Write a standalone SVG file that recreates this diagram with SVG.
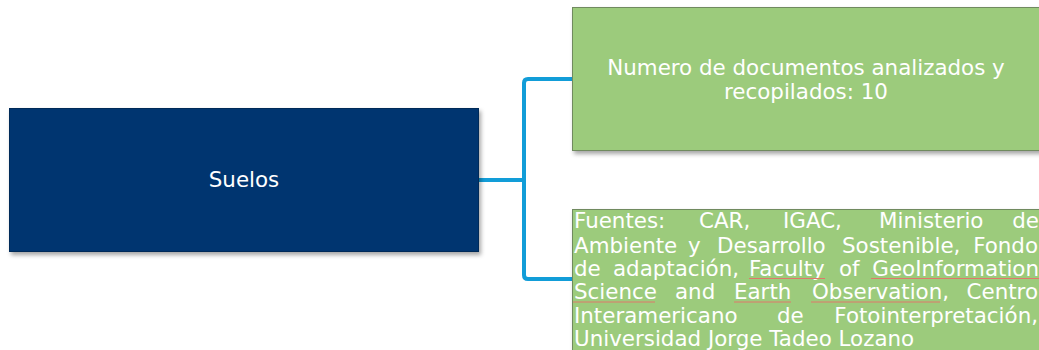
<svg xmlns="http://www.w3.org/2000/svg" width="1039" height="350" viewBox="0 0 1039 350">
<defs>
<filter id="sh" x="-5%" y="-10%" width="115%" height="130%">
<feDropShadow dx="2" dy="3" stdDeviation="2" flood-color="#000" flood-opacity="0.35"/>
</filter>
</defs>
<style>
.t{font-family:"DejaVu Sans","Verdana",sans-serif;font-size:21.4px;fill:#ffffff}
.g{fill:#9ccb7b;stroke:#6f8a5e;stroke-width:1}
.b{fill:#04356f;stroke:#022a58;stroke-width:1}
.c{fill:none;stroke:#129dd8;stroke-width:4;stroke-linejoin:round}
.u{stroke:#e0786a;stroke-width:1;fill:none}
.e{text-anchor:end}
</style>
<rect width="1039" height="350" fill="#ffffff"/>
<g id="connectors">
<path class="c" d="M479,180 H524"/>
<path class="c" d="M572,79 H528 Q524,79 524,83 V275 Q524,279 528,279 H572"/>
</g>
<g id="node-suelos">
<rect class="b" x="9.5" y="108.5" width="469" height="143" filter="url(#sh)"/>
<text class="t" x="244" y="187" text-anchor="middle">Suelos</text>
</g>
<g id="node-numero">
<rect class="g" x="572.5" y="7.5" width="470" height="143" filter="url(#sh)"/>
<text class="t" x="806" y="75" text-anchor="middle">Numero de documentos analizados y</text>
<text class="t" x="806" y="99" text-anchor="middle">recopilados: 10</text>
</g>
<g id="node-fuentes">
<rect class="g" x="572.5" y="209.5" width="470" height="150" filter="url(#sh)"/>
<text class="t" y="228"><tspan x="574">Fuentes:</tspan><tspan x="699">CAR,</tspan><tspan x="783">IGAC,</tspan><tspan x="879">Ministerio</tspan></text>
<text class="t e" x="1039" y="228">de</text>
<text class="t" y="252.5"><tspan x="574">Ambiente</tspan><tspan x="688">y</tspan><tspan x="717">Desarrollo</tspan><tspan x="842">Sostenible,</tspan></text>
<text class="t e" x="1038" y="252.5">Fondo</text>
<text class="t" y="275.5"><tspan x="574">de</tspan><tspan x="613">adaptación,</tspan><tspan x="749">Faculty</tspan><tspan x="839">of</tspan></text>
<text class="t e" x="1039" y="275.5">GeoInformation</text>
<text class="t" y="299"><tspan x="574">Science</tspan><tspan x="675">and</tspan><tspan x="734">Earth</tspan><tspan x="812">Observation,</tspan></text>
<text class="t e" x="1038" y="299">Centro</text>
<text class="t" y="322.5"><tspan x="574">Interamericano</tspan><tspan x="777">de</tspan></text>
<text class="t e" x="1038" y="322.5">Fotointerpretación,</text>
<text class="t" x="574" y="346">Universidad Jorge Tadeo Lozano</text>
<path class="u" d="M749,278.5 H825 M871,278.5 H1039 M573,302 H655 M734,302 H791 M811,302 H940"/>
</g>
</svg>
